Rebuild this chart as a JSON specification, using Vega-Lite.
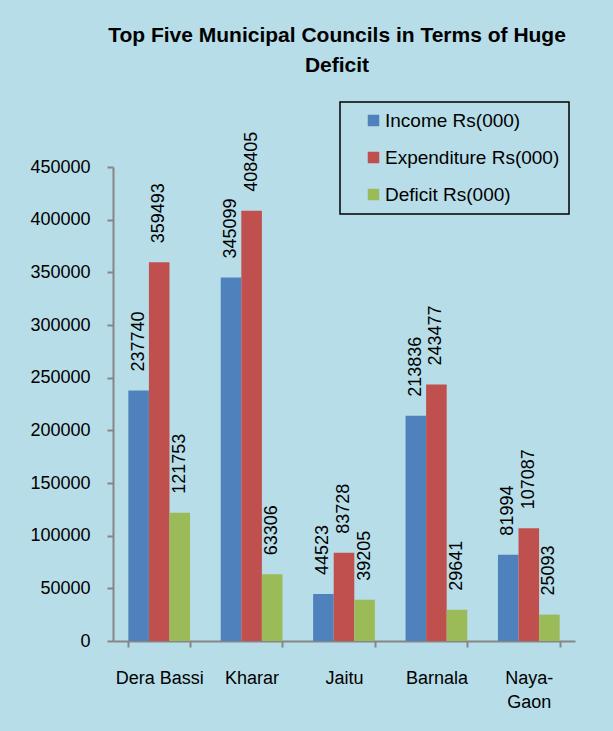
{
  "$schema": "https://vega.github.io/schema/vega-lite/v6.json",
  "width": 462,
  "height": 474,
  "autosize": {"type": "none"},
  "padding": {"left": 113, "top": 167, "right": 38, "bottom": 90},
  "background": "#b7dde8",
  "config": {"view": {"stroke": null}, "font": "Liberation Sans"},
  "title": {
    "text": ["Top Five Municipal Councils in Terms of Huge", "Deficit"],
    "font": "Liberation Sans",
    "fontSize": 21,
    "fontWeight": "bold",
    "lineHeight": 30,
    "anchor": "middle",
    "dx": -7,
    "dy": -21,
    "color": "#000000"
  },
  "data": {
    "values": [
      {"city": "Dera Bassi", "series": "Income  Rs(000)", "value": 237740},
      {"city": "Dera Bassi", "series": "Expenditure Rs(000)", "value": 359493},
      {"city": "Dera Bassi", "series": "Deficit Rs(000)", "value": 121753},
      {"city": "Kharar", "series": "Income  Rs(000)", "value": 345099},
      {"city": "Kharar", "series": "Expenditure Rs(000)", "value": 408405},
      {"city": "Kharar", "series": "Deficit Rs(000)", "value": 63306},
      {"city": "Jaitu", "series": "Income  Rs(000)", "value": 44523},
      {"city": "Jaitu", "series": "Expenditure Rs(000)", "value": 83728},
      {"city": "Jaitu", "series": "Deficit Rs(000)", "value": 39205},
      {"city": "Barnala", "series": "Income  Rs(000)", "value": 213836},
      {"city": "Barnala", "series": "Expenditure Rs(000)", "value": 243477},
      {"city": "Barnala", "series": "Deficit Rs(000)", "value": 29641},
      {"city": "Naya-Gaon", "series": "Income  Rs(000)", "value": 81994},
      {"city": "Naya-Gaon", "series": "Expenditure Rs(000)", "value": 107087},
      {"city": "Naya-Gaon", "series": "Deficit Rs(000)", "value": 25093}
    ]
  },
  "encoding": {
    "x": {
      "field": "city",
      "type": "nominal",
      "sort": null,
      "scale": {"paddingInner": 0.332, "paddingOuter": 0.166},
      "axis": {
        "title": null,
        "labelAngle": 0,
        "tickBand": "extent",
        "domainColor": "#868686",
        "domainWidth": 2,
        "tickColor": "#868686",
        "tickWidth": 2,
        "tickSize": 6,
        "labelFont": "Liberation Sans",
        "labelFontSize": 18,
        "labelPadding": 22,
        "labelColor": "#000000",
        "labelBaseline": "top",
        "labelLineHeight": 24,
        "labelExpr": "datum.value == 'Naya-Gaon' ? ['Naya-', 'Gaon'] : datum.value"
      }
    },
    "xOffset": {
      "field": "series",
      "type": "nominal",
      "sort": ["Income  Rs(000)", "Expenditure Rs(000)", "Deficit Rs(000)"],
      "scale": {"paddingInner": 0, "paddingOuter": 0}
    },
    "y": {
      "field": "value",
      "type": "quantitative",
      "scale": {"domain": [0, 450000], "nice": false},
      "axis": {
        "title": null,
        "values": [0, 50000, 100000, 150000, 200000, 250000, 300000, 350000, 400000, 450000],
        "format": "d",
        "grid": false,
        "domainColor": "#868686",
        "domainWidth": 2,
        "tickColor": "#868686",
        "tickWidth": 2,
        "tickSize": 6,
        "labelFont": "Liberation Sans",
        "labelFontSize": 18,
        "labelPadding": 17,
        "labelColor": "#000000"
      }
    }
  },
  "layer": [
    {
      "mark": {"type": "bar"},
      "encoding": {
        "color": {
          "field": "series",
          "type": "nominal",
          "scale": {
            "domain": ["Income  Rs(000)", "Expenditure Rs(000)", "Deficit Rs(000)"],
            "range": ["#4f81bd", "#c0504d", "#9bbb59"]
          },
          "legend": {
            "title": null,
            "orient": "none",
            "legendX": 227,
            "legendY": -65,
            "strokeColor": "#000000",
            "padding": 9,
            "symbolType": "square",
            "symbolSize": 132,
            "symbolStrokeWidth": 0,
            "symbolOffset": 15,
            "labelOffset": 2,
            "labelFont": "Liberation Sans",
            "labelFontSize": 19,
            "labelLimit": 400,
            "labelColor": "#000000",
            "rowPadding": 17,
            "encode": {"legend": {"update": {"strokeWidth": {"value": 1.5}}}}
          }
        }
      }
    },
    {
      "mark": {
        "type": "text",
        "angle": 270,
        "align": "left",
        "baseline": "middle",
        "dx": 19,
        "font": "Liberation Sans",
        "fontSize": 18,
        "color": "#000000"
      },
      "encoding": {
        "text": {"field": "value", "type": "quantitative", "format": "d"}
      }
    }
  ]
}
